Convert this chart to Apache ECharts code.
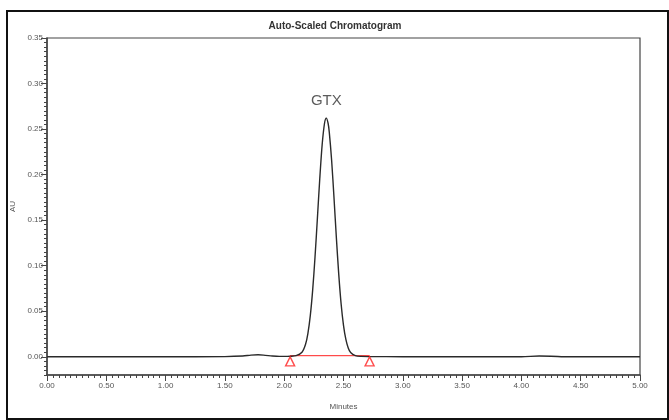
<!DOCTYPE html>
<html><head><meta charset="utf-8">
<script src="https://cdn.jsdelivr.net/npm/echarts@6/dist/echarts.min.js"></script>
<style>html,body{margin:0;padding:0;background:#fff}#c{width:669px;height:420px}</style>
</head><body><div id="c"></div>
<script>
const times = [0, 0.5, 1.0, 1.5, 1.65, 1.72, 1.78, 1.84, 1.90, 1.96, 2.00, 2.05, 2.10, 2.15, 2.18, 2.20, 2.22, 2.24, 2.26, 2.28, 2.30, 2.32, 2.34, 2.355, 2.37, 2.38, 2.40, 2.42, 2.44, 2.46, 2.48, 2.50, 2.52, 2.54, 2.56, 2.60, 2.65, 2.72, 3.0, 3.5, 4.0, 4.15, 4.25, 4.4, 5.0];
const au = [0, 0, 0, 0.0002, 0.0008, 0.0018, 0.0022, 0.0016, 0.0008, 0.0004, 0.0004, 0.0006, 0.0012, 0.0050, 0.0137, 0.0258, 0.0452, 0.0732, 0.1098, 0.1523, 0.1957, 0.2328, 0.2564, 0.2620, 0.2564, 0.2467, 0.2155, 0.1743, 0.1305, 0.0905, 0.0580, 0.0345, 0.0190, 0.0096, 0.0046, 0.0012, 0.0004, 0.0002, 0.0001, 0, 0, 0.0008, 0.0006, 0, 0];
const peakName = 'GTX';
const peakTime = 2.355;
const peakAU = 0.262;
const baselineTimes = [2.05, 2.72];
const baselineAU = [0.0012, 0.0012];
const markerAU = -0.005;
const yTickLabels = [0, 0.05, 0.10, 0.15, 0.20, 0.25, 0.30, 0.35];

const chart = echarts.init(document.getElementById('c'));
const font = 'Liberation Sans, Arial, sans-serif';
chart.setOption({
  animation: false,
  backgroundColor: '#fff',
  title: {
    text: 'Auto-Scaled Chromatogram', left: 330, top: 16, textAlign: 'center',
    textStyle: {fontSize: 10, fontWeight: 'bold', color: '#333', fontFamily: font}
  },
  graphic: [{type: 'rect', shape: {x: 7, y: 11, width: 661, height: 408},
    style: {fill: 'none', stroke: '#111', lineWidth: 2}, silent: true}],
  grid: {left: 47, right: 29, top: 38, bottom: 45, show: true, borderColor: '#444', borderWidth: 1.2},
  xAxis: {
    type: 'value', min: 0, max: 5, interval: 0.5,
    name: 'Minutes', nameLocation: 'middle', nameGap: 28,
    nameTextStyle: {fontSize: 8, color: '#555', fontFamily: font},
    axisLine: {onZero: false, lineStyle: {color: '#444', width: 1.5}},
    axisTick: {length: 6, lineStyle: {color: '#444'}},
    minorTick: {show: true, splitNumber: 10, length: 3, lineStyle: {color: '#444'}},
    axisLabel: {fontSize: 8, color: '#555', fontFamily: font, margin: 7, formatter: v => v.toFixed(2)},
    splitLine: {show: false}
  },
  yAxis: [{
    type: 'value', min: -0.02, max: 0.35,
    name: 'AU', nameLocation: 'middle', nameGap: 29, nameRotate: 90,
    nameTextStyle: {fontSize: 8, color: '#555', fontFamily: font},
    axisLine: {show: true, onZero: false, lineStyle: {color: '#444', width: 1.5}},
    axisTick: {show: true, length: 6, customValues: yTickLabels, lineStyle: {color: '#444'}},
    axisLabel: {fontSize: 8, color: '#555', fontFamily: font, margin: 4, customValues: yTickLabels, formatter: v => v.toFixed(2)},
    splitLine: {show: false}
  }, {
    type: 'value', min: -0.02, max: 0.35, interval: 0.005, position: 'left',
    axisLine: {show: false, onZero: false},
    axisTick: {show: true, length: 3, lineStyle: {color: '#444'}},
    axisLabel: {show: false},
    splitLine: {show: false}
  }],
  series: [{
    type: 'line', data: times.map((t, i) => [t, au[i]]), showSymbol: false, smooth: 0.3,
    lineStyle: {color: '#2a2a2a', width: 1.4}, z: 3
  }, {
    type: 'line', data: baselineTimes.map((t, i) => [t, baselineAU[i]]), showSymbol: false,
    lineStyle: {color: '#ff2020', width: 1}, z: 2
  }, {
    type: 'scatter', data: baselineTimes.map(t => [t, markerAU]), symbol: 'triangle', symbolSize: 9,
    itemStyle: {color: '#fff', borderColor: '#ff2020', borderWidth: 1.4}, z: 4
  }, {
    type: 'scatter', data: [[peakTime, peakAU]], symbolSize: 0,
    label: {show: true, position: 'top', distance: 10, formatter: peakName, fontSize: 15, color: '#333', fontFamily: font}
  }]
});
</script></body></html>
